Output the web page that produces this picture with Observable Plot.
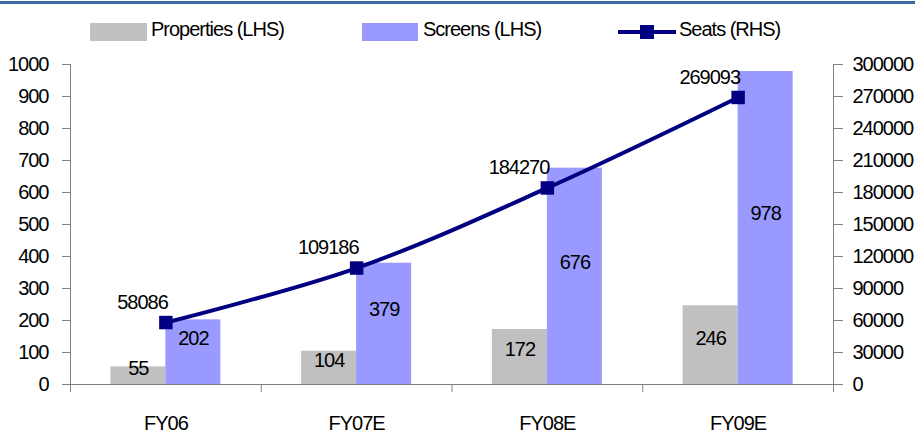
<!DOCTYPE html>
<html>
<head>
<meta charset="utf-8">
<script src="https://cdn.jsdelivr.net/npm/d3@7"></script>
<script src="https://cdn.jsdelivr.net/npm/@observablehq/plot@0.6"></script>
<style>
  html, body { margin: 0; padding: 0; background: #fff; }
  #wrap { position: relative; width: 915px; height: 433px; overflow: hidden;
          font-family: "Liberation Sans", Arial, sans-serif; color: #000; }
  #topline { position: absolute; left: 0; top: 1px; width: 915px; height: 3px; background: #3c6aa6; }
  #legend { position: relative; width: 915px; height: 50px; font-size: 20px; letter-spacing: -1px; }
  #legend .sw { position: absolute; top: 23px; height: 18px; }
  #legend .lbl { position: absolute; top: 19px; line-height: 20px; white-space: nowrap; }
  #legend .ln { position: absolute; top: 30px; height: 4px; width: 58px; background: #000080; }
  #legend .mk { position: absolute; top: 25px; width: 14px; height: 14px; background: #000080; }
  #chart svg { display: block; }
</style>
</head>
<body>
<div id="wrap">
  <div id="topline"></div>
  <div id="legend"></div>
  <div id="chart"></div>
</div>
<script>
// Multiplex rollout: properties and screens on the left axis, seats on the right axis
const categories = ["FY06", "FY07E", "FY08E", "FY09E"];
const properties = [55, 104, 172, 246];
const screens = [202, 379, 676, 978];
const seats = [58086, 109186, 184270, 269093];
const leftTicks = [0, 100, 200, 300, 400, 500, 600, 700, 800, 900, 1000];
const rightTicks = [0, 30000, 60000, 90000, 120000, 150000, 180000, 210000, 240000, 270000, 300000];
const seriesNames = ["Properties (LHS)", "Screens (LHS)", "Seats (RHS)"];

const leftMax = 1000;
const rightMax = 300000;
const toLeft = v => v * leftMax / rightMax;

const grey = "#c0c0c0";
const lilac = "#9999ff";
const navy = "#000080";
const axisColor = "#808080";

const rows = categories.map((category, i) => ({
  i, category, properties: properties[i], screens: screens[i], seats: seats[i]
}));

// legend
const legend = document.getElementById("legend");
legend.innerHTML = `
  <div class="sw" style="left:90px;width:57px;background:${grey}"></div>
  <div class="lbl" style="left:151px">${seriesNames[0]}</div>
  <div class="sw" style="left:362px;width:56px;background:${lilac}"></div>
  <div class="lbl" style="left:423px">${seriesNames[1]}</div>
  <div class="ln" style="left:618px"></div>
  <div class="mk" style="left:640px"></div>
  <div class="lbl" style="left:679px">${seriesNames[2]}</div>`;

const width = 915, height = 383;
const marginLeft = 70, marginRight = 82, marginTop = 14, marginBottom = 49;
const band = (width - marginLeft - marginRight) / categories.length;
const barW = 55;

const chart = Plot.plot({
  width, height, marginLeft, marginRight, marginTop, marginBottom,
  style: { fontFamily: "Liberation Sans, Arial, sans-serif", fontSize: "20px", color: "#000", letterSpacing: "-1px", background: "#fff" },
  x: { type: "linear", domain: [0, categories.length], axis: null },
  y: { domain: [0, leftMax], axis: null },
  marks: [
    Plot.rect(rows, { x1: d => d.i, x2: d => d.i + 1, y1: 0, y2: "properties", fill: grey,
                      insetLeft: band / 2 - barW, insetRight: band / 2 }),
    Plot.rect(rows, { x1: d => d.i, x2: d => d.i + 1, y1: 0, y2: "screens", fill: lilac,
                      insetLeft: band / 2, insetRight: band / 2 - barW }),
    // axis lines
    Plot.ruleY([0], { stroke: axisColor }),
    Plot.ruleX([0, categories.length], { y1: 0, y2: leftMax, stroke: axisColor }),
    // category separators
    Plot.axisX({ ticks: d3.range(0, categories.length + 1), tickSize: 8, tickFormat: () => "", stroke: axisColor }),
    // category names
    Plot.axisX({ ticks: rows.map(d => d.i + 0.5), tickSize: 0, tickPadding: 31,
                 tickFormat: v => categories[Math.floor(v)] }),
    // left axis
    Plot.axisY({ ticks: leftTicks, tickSize: 8, tickPadding: 14, stroke: axisColor, tickFormat: d3.format("d") }),
    // right axis (seats)
    Plot.axisY({ anchor: "right", ticks: rightTicks.map(toLeft), tickSize: 9, tickPadding: 10, stroke: axisColor,
                 tickFormat: v => d3.format("d")(Math.round(v * rightMax / leftMax)) }),
    // seats line
    Plot.line(rows, { x: d => d.i + 0.5, y: d => toLeft(d.seats), stroke: navy, strokeWidth: 4, curve: "catmull-rom" }),
    Plot.dot(rows, { x: d => d.i + 0.5, y: d => toLeft(d.seats), symbol: "square", r: 7.6, fill: navy, stroke: null }),
    // value labels
    Plot.text(rows, { x: d => d.i + 0.5, y: d => d.properties / 2, text: d => String(d.properties), dx: -barW / 2, dy: -7 }),
    Plot.text(rows, { x: d => d.i + 0.5, y: d => d.screens / 2, text: d => String(d.screens), dx: barW / 2, dy: -14 }),
    Plot.text(rows, { x: d => d.i + 0.5, y: d => toLeft(d.seats), text: d => String(d.seats), textAnchor: "end", dx: 2, dy: -20 })
  ]
});
document.getElementById("chart").appendChild(chart);
</script>
</body>
</html>
